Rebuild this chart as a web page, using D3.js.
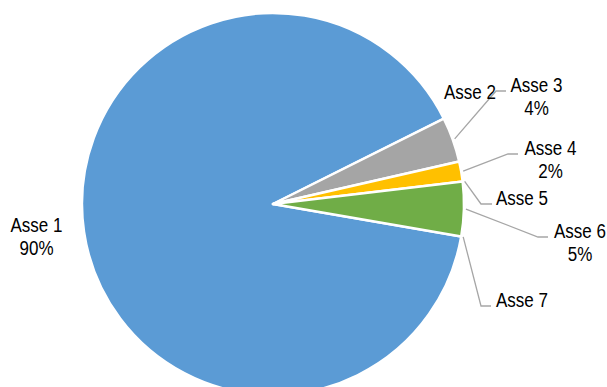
<!DOCTYPE html>
<html>
<head>
<meta charset="utf-8">
<script src="https://cdn.jsdelivr.net/npm/d3@7/dist/d3.min.js"></script>
<style>
  html, body { margin: 0; padding: 0; background: #fff; }
  svg { display: block; }
  text { font-family: "Liberation Sans", Arial, sans-serif; font-size: 21px; fill: #000; }
</style>
</head>
<body>
<svg id="chart" width="607" height="387"></svg>
<script>
// Share of each axis (percent)
const categories = ["Asse 1", "Asse 2", "Asse 3", "Asse 4", "Asse 5", "Asse 6", "Asse 7"];
const values     = [89.9, 0, 3.8, 1.7, 0, 4.6, 0];
const colors     = ["#5b9bd5", "#ed7d31", "#a5a5a5", "#ffc000", "#4472c4", "#70ad47", "#264478"];

// Label placement: text centre, first baseline, optional leader elbow and end
const labelLayout = {
  "Asse 1": { x: 36.5, y: 231.5 },
  "Asse 2": { x: 470,  y: 99 },
  "Asse 3": { x: 536.5, y: 91.5, elbow: [496, 91], end: [506, 91] },
  "Asse 4": { x: 550.5, y: 154.5, elbow: [508, 154], end: [518, 154] },
  "Asse 5": { x: 522,  y: 204.5, elbow: [481, 204], end: [492, 204] },
  "Asse 6": { x: 580,  y: 237.5, elbow: [538, 237], end: [548, 237] },
  "Asse 7": { x: 522,  y: 306.5, elbow: [481, 306], end: [491, 306] }
};

const cx = 273, cy = 204, radius = 191;
const startDeg = 99.8;
const lineGap = 23.5;
const narrow = 0.81; // condensed label face

const data = categories.map((name, i) => ({ name, value: values[i], color: colors[i] }));
const total = d3.sum(values);

const pie = d3.pie()
  .sort(null)
  .value(d => d.value)
  .startAngle(startDeg * Math.PI / 180)
  .endAngle(startDeg * Math.PI / 180 + 2 * Math.PI);

const arcs = pie(data);
const arc = d3.arc().innerRadius(0).outerRadius(radius);

const svg = d3.select("#chart");
const g = svg.append("g").attr("transform", `translate(${cx},${cy})`);

g.selectAll("path.slice")
  .data(arcs.filter(a => a.data.value > 0))
  .join("path")
  .attr("class", "slice")
  .attr("d", arc)
  .attr("fill", d => d.data.color)
  .attr("stroke", "#fff")
  .attr("stroke-width", 2.5)
  .attr("stroke-linejoin", "round");

// Leader lines from the slice edge to the label
const leaderR = radius + 2;
arcs.forEach(a => {
  const lay = labelLayout[a.data.name];
  if (!lay.elbow) return;
  const mid = (a.startAngle + a.endAngle) / 2;
  const sx = cx + leaderR * Math.sin(mid);
  const sy = cy - leaderR * Math.cos(mid);
  svg.append("polyline")
    .attr("points", [[sx, sy], lay.elbow, lay.end].map(p => p.join(",")).join(" "))
    .attr("fill", "none")
    .attr("stroke", "#a6a6a6")
    .attr("stroke-width", 1.3);
});

// Category labels with rounded percentage for non-empty slices
const fmt = v => Math.round(v / total * 100) + "%";
arcs.forEach(a => {
  const lay = labelLayout[a.data.name];
  const t = svg.append("text")
    .attr("transform", `translate(${lay.x},${lay.y}) scale(${narrow},1)`)
    .attr("text-anchor", "middle");
  t.append("tspan").attr("x", 0).text(a.data.name);
  if (a.data.value > 0) {
    t.append("tspan").attr("x", 0).attr("dy", lineGap).text(fmt(a.data.value));
  }
});
</script>
</body>
</html>
